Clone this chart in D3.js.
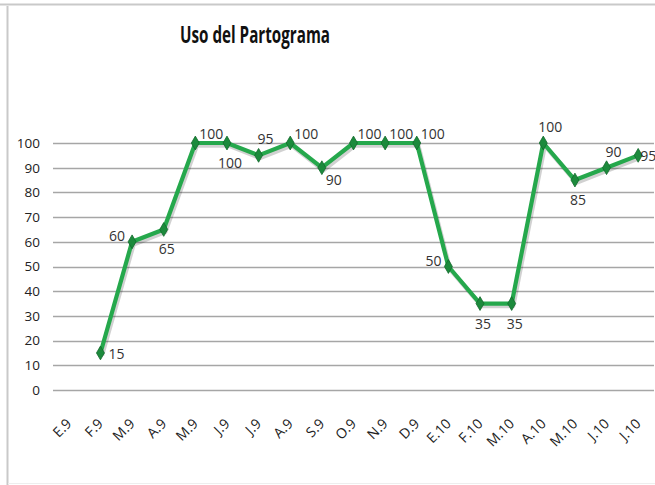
<!DOCTYPE html>
<html>
<head>
<meta charset="utf-8">
<script src="https://cdn.jsdelivr.net/npm/d3@7"></script>
<style>
  body { margin: 0; background: #fff; }
  svg { display: block; font-family: "Open Sans", "Noto Sans", sans-serif; }
</style>
</head>
<body>
<svg id="chart" width="655" height="485"></svg>
<script>
// months of 2009 and 2010
const months = ['E.9', 'F.9', 'M.9', 'A.9', 'M.9', 'J.9', 'J.9', 'A.9', 'S.9', 'O.9', 'N.9', 'D.9',
  'E.10', 'F.10', 'M.10', 'A.10', 'M.10', 'J.10', 'J.10'];
// percentage of use, E.9 has no value
const uso = [null, 15, 60, 65, 100, 100, 95, 100, 90, 100, 100, 100, 50, 35, 35, 100, 85, 90, 95];
const yTicks = [0, 10, 20, 30, 40, 50, 60, 70, 80, 90, 100];
// where each value label sits against its point
const labelSide = [null, 'right', 'left', 'below', 'ne', 'below', 'above', 'ne', 'se', 'ne', 'ne', 'ne',
  'left', 'below', 'below', 'above', 'below', 'above', 'right'];

const svg = d3.select('#chart');
const width = 655, height = 485;
const margin = { top: 143, right: 1, bottom: 95, left: 53 };

// frame
svg.append('line').attr('x1', 0).attr('x2', width).attr('y1', 4.5).attr('y2', 4.5)
  .attr('stroke', '#c9c9c9').attr('stroke-width', 2);
svg.append('line').attr('x1', 7.5).attr('x2', 7.5).attr('y1', 6).attr('y2', height)
  .attr('stroke', '#c9c9c9').attr('stroke-width', 2);
svg.append('line').attr('x1', 8).attr('x2', width).attr('y1', 483.5).attr('y2', 483.5)
  .attr('stroke', '#eeeeee').attr('stroke-width', 1);

svg.append('text')
  .attr('x', 255).attr('y', 43)
  .attr('text-anchor', 'middle')
  .attr('font-size', 23).attr('font-weight', 'bold')
  .attr('textLength', 150).attr('lengthAdjust', 'spacingAndGlyphs')
  .attr('fill', '#111')
  .text('Uso del Partograma');

const x = d3.scaleBand()
  .domain(d3.range(months.length))
  .range([margin.left, width - margin.right]);

const y = d3.scaleLinear()
  .domain([0, 100])
  .range([height - margin.bottom, margin.top]);

// gridlines
svg.append('g')
  .selectAll('line')
  .data(yTicks)
  .join('line')
  .attr('x1', margin.left).attr('x2', width - margin.right)
  .attr('y1', d => Math.round(y(d)) + 0.5).attr('y2', d => Math.round(y(d)) + 0.5)
  .attr('stroke', '#a6a6a6').attr('stroke-width', 1.3);

// y axis labels
const yAxis = svg.append('g')
  .attr('transform', `translate(${margin.left},0)`)
  .call(d3.axisLeft(y).tickValues(yTicks).tickSize(0).tickPadding(13));
yAxis.select('.domain').remove();
yAxis.selectAll('text').attr('font-size', 13.5).attr('fill', '#222').attr('font-family', '"Open Sans", sans-serif');

// x axis labels
const xAxis = svg.append('g')
  .attr('transform', `translate(0,${height - margin.bottom})`)
  .call(d3.axisBottom(x).tickFormat(i => months[i]).tickSize(0));
xAxis.select('.domain').remove();
xAxis.selectAll('text')
  .attr('font-size', 14).attr('fill', '#222')
  .attr('font-family', '"Open Sans", sans-serif')
  .attr('text-anchor', 'end')
  .attr('transform', 'translate(-2,29) rotate(-45)')
  .attr('dy', '0.35em');

const pts = uso.map((v, i) => ({ i, v })).filter(d => d.v !== null);
const cx = d => x(d.i) + x.bandwidth() / 2;

const line = d3.line().x(cx).y(d => y(d.v));

// soft shadow
svg.append('path')
  .datum(pts)
  .attr('d', line)
  .attr('transform', 'translate(1.5,2.5)')
  .attr('fill', 'none')
  .attr('stroke', '#000').attr('stroke-opacity', 0.18)
  .attr('stroke-width', 4.5).attr('stroke-linejoin', 'round');

svg.append('path')
  .datum(pts)
  .attr('d', line)
  .attr('fill', 'none')
  .attr('stroke', '#25a84c')
  .attr('stroke-width', 4.2)
  .attr('stroke-linejoin', 'round');

const diamond = d3.symbol().type(d3.symbolDiamond).size(55);
svg.append('g')
  .selectAll('path')
  .data(pts)
  .join('path')
  .attr('d', diamond)
  .attr('transform', d => `translate(${cx(d)},${y(d.v)})`)
  .attr('fill', '#1c8a3c')
  .attr('stroke', '#136a2c').attr('stroke-width', 0.8);

// value labels
const offsets = {
  right: [2, 6, 'start'],
  left: [-7, -1, 'end'],
  above: [7, -11, 'middle'],
  below: [3, 25, 'middle'],
  ne: [4, -4, 'start'],
  se: [4, 17, 'start']
};
svg.append('g')
  .selectAll('text')
  .data(pts)
  .join('text')
  .attr('x', d => cx(d) + offsets[labelSide[d.i]][0] + (d.i === 1 ? 6 : 0))
  .attr('y', d => y(d.v) + offsets[labelSide[d.i]][1])
  .attr('text-anchor', d => offsets[labelSide[d.i]][2])
  .attr('font-size', 14)
  .attr('fill', '#333')
  .text(d => d.v);
</script>
</body>
</html>
